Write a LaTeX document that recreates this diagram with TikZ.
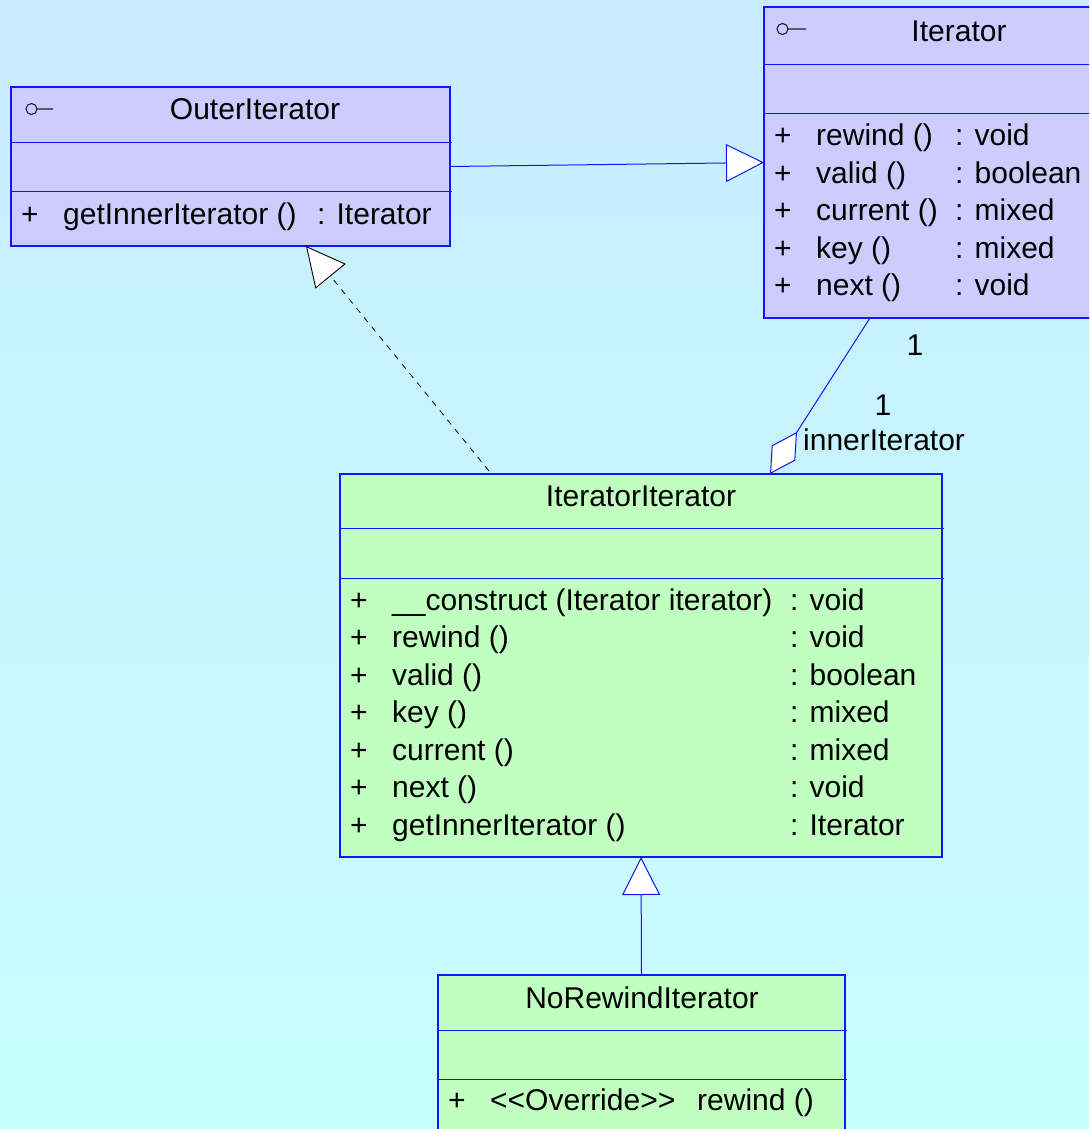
\documentclass[tikz,border=0pt]{standalone}
\usepackage{fontspec}
\setmainfont{Liberation Sans}
\usetikzlibrary{arrows.meta,calc}
\definecolor{bgtop}{RGB}{200,236,254}
\definecolor{bgbot}{RGB}{200,254,255}
\definecolor{ifill}{RGB}{204,204,255}
\definecolor{cfill}{RGB}{192,255,192}
\definecolor{edge}{RGB}{20,20,255}
\definecolor{icon}{RGB}{30,30,30}
\begin{document}
\begin{tikzpicture}[x=1pt,y=-1pt,
  box/.style={draw=edge, line width=1.1pt, inner sep=0pt, outer sep=0pt, anchor=north west},
  sep/.style={draw=edge, line width=1pt},
  txt/.style={inner sep=0pt, anchor=base west, font=\fontsize{30}{34}\selectfont},
  ttl/.style={inner sep=0pt, anchor=base, font=\fontsize{30}{34}\selectfont},
  link/.style={draw=edge, line width=1pt},
  hollow/.style={-{Triangle[length=38pt,width=38pt,fill=white]}},
  ifc/.style={draw=icon, line width=1.1pt},
]
\useasboundingbox (0,0) rectangle (1089,1129);
\clip (0,0) rectangle (1089,1129);
\shade[top color=bgtop, bottom color=bgbot] (0,0) rectangle (1089,1129);

% class and interface boxes
\node[box, fill=ifill, minimum width=439pt, minimum height=159pt] (outer) at (11,87) {};
\node[box, fill=ifill, minimum width=340pt, minimum height=311pt] (iter) at (764,7) {};
\node[box, fill=cfill, minimum width=602pt, minimum height=383pt] (itit) at (340,474) {};
\node[box, fill=cfill, minimum width=407pt, minimum height=170pt] (norew) at (438,975) {};

% compartment separators
\draw[sep] (11,142) -- (452,142) (11,191.5) -- (452,191.5);
\draw[sep] (764,64.5) -- (1100,64.5) (764,113.5) -- (1100,113.5);
\draw[sep] (340,528) -- (944,528) (340,578) -- (944,578);
\draw[sep] (438,1030) -- (847,1030) (438,1079) -- (847,1079);

% interface markers
\draw[ifc] (31.5,109) circle[radius=5.5pt] (37,109) -- (53,109);
\draw[ifc] (782.5,29) circle[radius=5.5pt] (788,29) -- (806,29);

% OuterIterator
\node[ttl] (t1) at (255,120) {OuterIterator};
\node[txt] (o1) at (21,224) {+};
\node[txt] (o2) at (63,224) {getInnerIterator ()};
\node[txt] (o3) at (317,224) {: Iterator};

% Iterator
\node[ttl] (t2) at (959,41.7) {Iterator};
\foreach \yy/\nm/\ty [count=\i] in {145.5/rewind ()/void, 183/valid ()/boolean, 220.5/current ()/mixed, 258/key ()/mixed, 295.5/next ()/void}{
  \node[txt] (ip\i) at (774,\yy) {+};
  \node[txt] (in\i) at (816,\yy) {\nm};
  \node[txt] (it\i) at (955,\yy) {: \ty};
}

% IteratorIterator
\node[ttl] (t3) at (641,506.5) {IteratorIterator};
\foreach \yy/\nm/\ty [count=\i] in {610/\_\_construct (Iterator iterator)/void, 647.5/rewind ()/void, 685/valid ()/boolean, 722.5/key ()/mixed, 760/current ()/mixed, 797.5/next ()/void, 835/getInnerIterator ()/Iterator}{
  \node[txt] (jp\i) at (350,\yy) {+};
  \node[txt] (jn\i) at (392,\yy) {\nm};
  \node[txt] (jt\i) at (790,\yy) {: \ty};
}

% NoRewindIterator
\node[ttl] (t4) at (642,1008.3) {NoRewindIterator};
\node[txt] (np) at (448,1110) {+};
\node[txt] (ns) at (490,1110) {<\kern0pt<Override>\kern0pt>};
\node[txt] (nm) at (697,1110) {rewind ()};

% relations
\draw[link, hollow] (outer.east) -- (iter.west);
\draw[black, line width=0.8pt, dash pattern=on 6pt off 6pt,
      -{Triangle[length=39pt,width=39pt,fill=white,line width=0.9pt]}]
  ($(itit.north west)+(149,-3)$) -- ($(outer.south west)+(295,0)$);
\draw[link, -{Diamond[length=50pt,width=28pt,fill=white]}]
  ($(iter.south west)+(106,0)$) -- ($(itit.north west)+(430,0)$);
\draw[link, hollow] (norew.north) -- (itit.south);

% association end labels
\node[ttl] (m1) at (915,355.5) {1};
\node[ttl] (m2) at (883,415.5) {1};
\node[txt] (role) at (803,450) {innerIterator};
\end{tikzpicture}
\end{document}
